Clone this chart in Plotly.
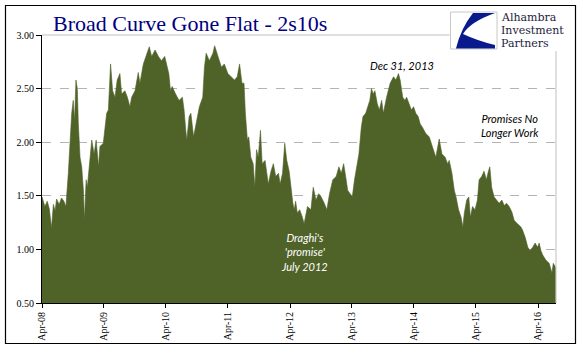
import plotly.graph_objects as go

dates = [
    "2008-04-01", "2008-04-18", "2008-05-02", "2008-05-14", "2008-05-27", "2008-06-07",
    "2008-06-17", "2008-06-26", "2008-07-11", "2008-07-25", "2008-08-08", "2008-08-20",
    "2008-09-03", "2008-09-13", "2008-09-23", "2008-10-02", "2008-10-10", "2008-10-18",
    "2008-10-26", "2008-11-01", "2008-11-11", "2008-11-21", "2008-12-01", "2008-12-07",
    "2008-12-17", "2008-12-24", "2009-01-05", "2009-01-19", "2009-02-02", "2009-02-14",
    "2009-02-28", "2009-03-08", "2009-03-28", "2009-04-07", "2009-04-17", "2009-04-27",
    "2009-05-10", "2009-05-22", "2009-06-05", "2009-06-18", "2009-07-04", "2009-07-14",
    "2009-08-02", "2009-08-17", "2009-09-01", "2009-09-11", "2009-10-01", "2009-10-20",
    "2009-10-30", "2009-11-19", "2009-12-08", "2009-12-24", "2010-01-07", "2010-01-27",
    "2010-02-16", "2010-03-05", "2010-03-25",
    "2010-04-08", "2010-04-18", "2010-04-28", "2010-05-08", "2010-05-28", "2010-06-17",
    "2010-07-07", "2010-07-17", "2010-07-27", "2010-08-02", "2010-08-16", "2010-08-26",
    "2010-09-11", "2010-09-25", "2010-10-15", "2010-11-04", "2010-11-14", "2010-11-24",
    "2010-12-13", "2011-01-03", "2011-01-13", "2011-02-02", "2011-02-22", "2011-03-11",
    "2011-04-01", "2011-04-20", "2011-05-10", "2011-05-26", "2011-06-09", "2011-06-23",
    "2011-07-05", "2011-07-13", "2011-07-25", "2011-08-02", "2011-08-14", "2011-08-28",
    "2011-09-07", "2011-09-17", "2011-09-27", "2011-10-10", "2011-10-20", "2011-11-06",
    "2011-11-25", "2011-12-11", "2011-12-25", "2012-01-08", "2012-01-24", "2012-02-03",
    "2012-02-17", "2012-03-01", "2012-03-13", "2012-03-27",
    "2012-04-05", "2012-04-18", "2012-04-26", "2012-05-04", "2012-05-14", "2012-05-28",
    "2012-06-13", "2012-06-23", "2012-07-13", "2012-08-02", "2012-08-16", "2012-09-01",
    "2012-09-17", "2012-10-01", "2012-10-20", "2012-11-04", "2012-11-20", "2012-12-09",
    "2012-12-29", "2013-01-14", "2013-01-28", "2013-02-11", "2013-02-23", "2013-03-07",
    "2013-03-21", "2013-04-03", "2013-04-16", "2013-04-26", "2013-05-12", "2013-05-26",
    "2013-06-05", "2013-06-21", "2013-07-05", "2013-07-15", "2013-07-25", "2013-08-04",
    "2013-08-14", "2013-08-28", "2013-09-09", "2013-09-23", "2013-10-03", "2013-10-22",
    "2013-11-12", "2013-12-02", "2013-12-16", "2013-12-31", "2014-01-10", "2014-01-25",
    "2014-02-07", "2014-02-17", "2014-03-03", "2014-03-17", "2014-03-30", "2014-04-12",
    "2014-04-26", "2014-05-08",
    "2014-05-21", "2014-06-10", "2014-06-30", "2014-07-19", "2014-08-08", "2014-08-28",
    "2014-09-13", "2014-10-02", "2014-10-16", "2014-10-26", "2014-11-11", "2014-11-25",
    "2014-12-05", "2014-12-20", "2015-01-04", "2015-01-14", "2015-01-23", "2015-02-06",
    "2015-02-18", "2015-02-28", "2015-03-12", "2015-03-27", "2015-04-10", "2015-04-20",
    "2015-05-05", "2015-05-19", "2015-06-02", "2015-06-14", "2015-06-22", "2015-07-03",
    "2015-07-17", "2015-08-01", "2015-08-16", "2015-09-01", "2015-09-15", "2015-09-29",
    "2015-10-14", "2015-10-30", "2015-11-13", "2015-12-02", "2015-12-22", "2016-01-01",
    "2016-01-17", "2016-02-01", "2016-02-14", "2016-03-01", "2016-03-15", "2016-03-29",
    "2016-04-08", "2016-04-18", "2016-04-28", "2016-05-17", "2016-06-06", "2016-06-22",
    "2016-06-30", "2016-07-11", "2016-07-15",
]

spread = [
    1.49, 1.40, 1.45, 1.38, 1.20, 1.42,
    1.36, 1.47, 1.42, 1.48, 1.45, 1.40,
    1.71, 2.02, 2.27, 2.39, 2.20, 2.58,
    2.50, 2.17, 1.86, 1.77, 1.55, 1.27,
    1.65, 1.58, 1.80, 2.02, 1.89, 2.02,
    1.77, 1.96, 1.99, 2.11, 2.27, 2.30,
    2.73, 2.48, 2.42, 2.58, 2.64, 2.45,
    2.48, 2.42, 2.33, 2.42, 2.48, 2.65,
    2.55, 2.73, 2.81, 2.89, 2.80, 2.86,
    2.80, 2.76, 2.80,
    2.70, 2.64, 2.48, 2.52, 2.45, 2.39,
    2.42, 2.30, 2.11, 2.02, 2.24, 2.27,
    2.05, 2.17, 2.33, 2.42, 2.70, 2.83,
    2.76, 2.83, 2.90, 2.80, 2.70, 2.73,
    2.64, 2.61, 2.58, 2.61, 2.73, 2.55,
    2.55, 2.27, 2.02, 2.05, 1.86, 1.80,
    1.58, 1.93, 1.86, 2.11, 1.80, 1.83,
    1.61, 1.73, 1.80, 1.68, 1.71, 1.61,
    1.71, 1.99, 1.83, 1.73,
    1.58, 1.43, 1.37, 1.45, 1.34, 1.37,
    1.30, 1.24, 1.40, 1.37, 1.58, 1.46,
    1.52, 1.49, 1.43, 1.37, 1.52, 1.65,
    1.68, 1.77, 1.71, 1.80, 1.68, 1.55,
    1.52, 1.49, 1.65, 1.73, 1.89, 2.14,
    2.24, 2.27, 2.33, 2.39, 2.50, 2.45,
    2.48, 2.36, 2.30, 2.39, 2.27, 2.42,
    2.55, 2.61, 2.58, 2.64, 2.58, 2.42,
    2.39, 2.42, 2.36, 2.30, 2.33, 2.27,
    2.24, 2.17,
    2.14, 2.08, 2.05, 1.96, 1.86, 2.03,
    1.89, 1.86, 1.80, 1.83, 1.71, 1.55,
    1.49, 1.37, 1.30, 1.21, 1.34, 1.46,
    1.49, 1.30, 1.40, 1.37, 1.46, 1.65,
    1.68, 1.73, 1.65, 1.73, 1.77, 1.58,
    1.49, 1.46, 1.43, 1.46, 1.41, 1.43,
    1.40, 1.35, 1.27, 1.24, 1.21, 1.18,
    1.11, 1.02, 0.99, 1.02, 1.06, 1.02,
    1.06, 0.99, 0.95, 0.90, 0.87, 0.78,
    0.87, 0.84, 0.81,
]

tick_dates = ["2008-04-01", "2009-04-01", "2010-04-01", "2011-04-01",
              "2012-04-01", "2013-04-01", "2014-04-01", "2015-04-01", "2016-04-01"]
tick_labels = ["Apr-08", "Apr-09", "Apr-10", "Apr-11", "Apr-12",
               "Apr-13", "Apr-14", "Apr-15", "Apr-16"]
y_ticks = [0.5, 1.0, 1.5, 2.0, 2.5, 3.0]

title_text = "Broad Curve Gone Flat - 2s10s"
logo_lines = ["Alhambra", "Investment", "Partners"]

W, H = 583, 361
L, R, T, B = 42, 556, 35, 303


def px(x):
    return (x - L) / (R - L)


def py(y):
    return (B - y) / (B - T)


fig = go.Figure()
fig.add_trace(go.Scatter(
    x=dates, y=spread, mode="lines", fill="tozeroy",
    line=dict(color="#4F6228", width=0.6),
    fillcolor="#4F6228", hoverinfo="skip", showlegend=False,
))

serif = "Liberation Serif, Times New Roman, serif"
sans = "Lato, Open Sans, sans-serif"

fig.update_layout(
    width=W, height=H,
    margin=dict(l=L, r=W - R, t=T, b=H - B, pad=0),
    paper_bgcolor="white", plot_bgcolor="white",
    xaxis=dict(
        type="date", range=["2008-04-01", "2016-07-16"],
        tickvals=tick_dates, ticktext=tick_labels, tickangle=-90,
        ticks="outside", ticklen=4, tickcolor="black", tickwidth=1,
        showline=True, linecolor="black", linewidth=1,
        showgrid=False, zeroline=False,
        tickfont=dict(family=serif, size=10, color="black"),
    ),
    yaxis=dict(
        range=[0.5, 3.0], tickvals=y_ticks, tickformat=".2f",
        ticks="outside", ticklen=5, tickcolor="black", tickwidth=1,
        showline=True, linecolor="black", linewidth=1,
        showgrid=True, gridcolor="#B4B4B4", griddash="dash", gridwidth=1,
        zeroline=False,
        tickfont=dict(family=serif, size=10, color="black"),
    ),
    showlegend=False,
)

shapes = []
shapes.append(dict(type="line", xref="paper", yref="paper", x0=0, x1=1, y0=1, y1=1,
                   line=dict(color="#BFBFBF", width=1)))
shapes.append(dict(type="line", xref="paper", yref="paper", x0=1, x1=1, y0=0, y1=1,
                   line=dict(color="#BFBFBF", width=1)))
shapes.append(dict(type="rect", xref="paper", yref="paper",
                   x0=px(449.5), x1=px(572), y0=py(51), y1=py(8),
                   line=dict(width=0), fillcolor="white", layer="above"))
shapes.append(dict(type="rect", xref="paper", yref="paper",
                   x0=px(450.5), x1=px(497), y0=py(49), y1=py(12),
                   line=dict(color="#C8C8C8", width=1), fillcolor="white", layer="above"))
pts = [("M", 473, 13), ("L", 495, 13), ("Q", 470, 22, 463, 34), ("Q", 478, 41, 495, 45),
       ("L", 495, 48.5), ("L", 456, 48.5), ("Q", 461, 28, 473, 13)]
path = ""
for p in pts:
    if p[0] == "Q":
        path += f"Q {px(p[1]):.4f},{py(p[2]):.4f} {px(p[3]):.4f},{py(p[4]):.4f} "
    else:
        path += f"{p[0]} {px(p[1]):.4f},{py(p[2]):.4f} "
path += "Z"
shapes.append(dict(type="path", xref="paper", yref="paper", path=path,
                   fillcolor="#0A1A8C", line=dict(width=0), layer="above"))
shapes.append(dict(type="rect", xref="paper", yref="paper",
                   x0=px(5.5), x1=px(575.5), y0=py(343.5), y1=py(5.5),
                   line=dict(color="black", width=1.2), fillcolor="rgba(0,0,0,0)", layer="above"))
fig.update_layout(shapes=shapes)

ann = []
ann.append(dict(text=title_text, xref="paper", yref="paper", x=px(51), y=py(23),
                xanchor="left", yanchor="middle", showarrow=False,
                font=dict(family=serif, size=22, color="#000080")))
for txt, yy in zip(logo_lines, [17.5, 30.5, 43.5]):
    ann.append(dict(text=txt, xref="paper", yref="paper", x=px(499.5), y=py(yy),
                    xanchor="left", yanchor="middle", showarrow=False, borderpad=0,
                    font=dict(family="DejaVu Serif, serif", size=11, color="#1C1C3C")))
ann.append(dict(text="<i>Dec 31, 2013</i>", xref="paper", yref="paper",
                x=px(401.5), y=py(65), xanchor="center", yanchor="middle",
                showarrow=False, font=dict(family=sans, size=11, color="black")))
ann.append(dict(text="<i>Promises No<br>Longer Work</i>", xref="paper", yref="paper",
                x=px(510), y=py(125.5), xanchor="center", yanchor="middle",
                showarrow=False, font=dict(family=sans, size=11, color="black")))
ann.append(dict(text="<i>Draghi's<br>'promise'<br>July 2012</i>", xref="paper", yref="paper",
                x=px(304), y=py(252), xanchor="center", yanchor="middle",
                showarrow=False, font=dict(family=sans, size=11, color="white")))
fig.update_layout(annotations=ann)

fig.write_html("out.html", config={"displayModeBar": False},
               post_script="document.body.style.margin='0';")
